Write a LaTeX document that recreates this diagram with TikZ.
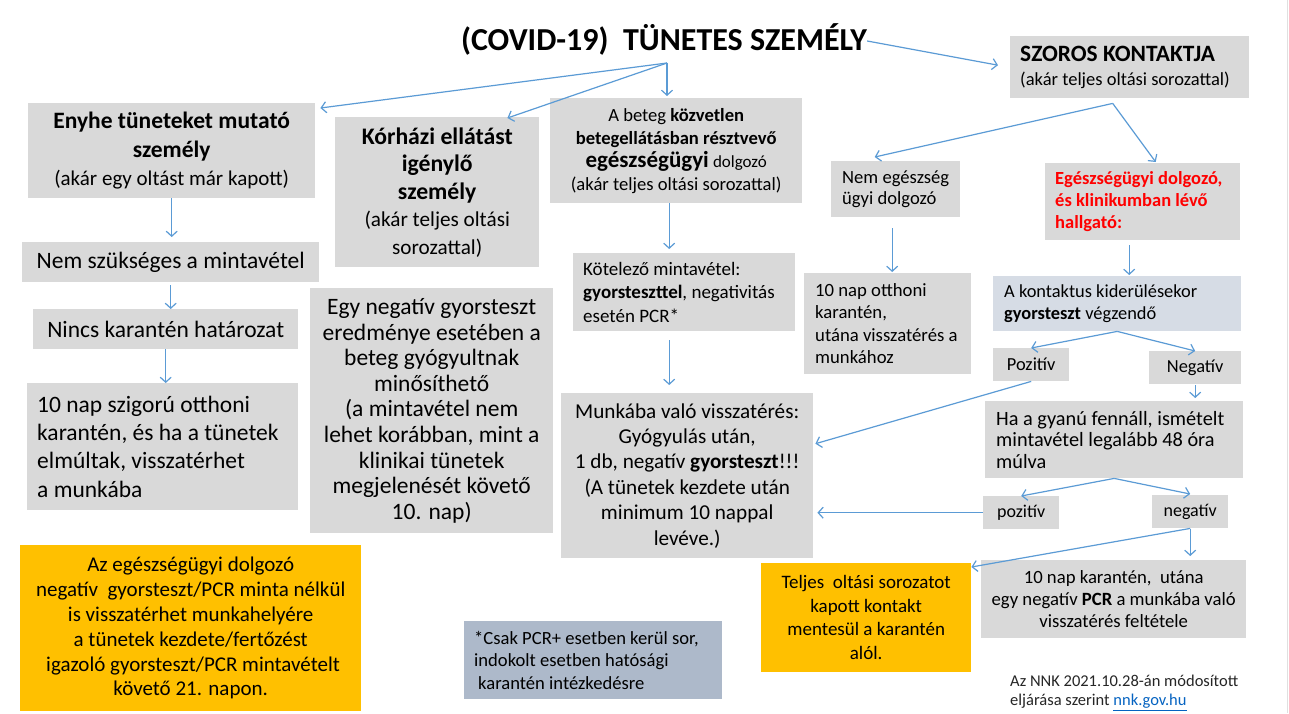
\documentclass[tikz,border=0pt]{standalone}
\usepackage{fontspec}
\setmainfont{Carlito}
\usetikzlibrary{arrows.meta,calc}
\definecolor{boxgray}{HTML}{D9D9D9}
\definecolor{lblue}{HTML}{D6DCE5}
\definecolor{bgray}{HTML}{ADB9CA}
\definecolor{orng}{HTML}{FFC000}
\definecolor{arrblue}{HTML}{5B9BD5}
\definecolor{linkblue}{HTML}{0563C1}
\definecolor{redtxt}{HTML}{FF0000}
\newcommand\fs[2]{\fontsize{#1}{#2}\selectfont}
% centred box: name, x1, y1, x2, y2, style, text
\newcommand\cbx[7]{%
  \pgfmathsetmacro\bw{#4-#2}\pgfmathsetmacro\bh{#5-#3}%
  \node[boxstyle, anchor=north west, minimum width=\bw pt, minimum height=\bh pt, align=center, #6] (#1) at (#2,#3) {#7};}
% left-aligned box: name, x1, y1, x2, y2, pad, style, text
\newcommand\lbx[8]{%
  \pgfmathsetmacro\bw{#4-#2}\pgfmathsetmacro\bh{#5-#3}%
  \node[boxstyle, anchor=north west, minimum width=\bw pt, minimum height=\bh pt, #7] (#1) at (#2,#3) {};
  \node[anchor=west, align=left, inner sep=0pt, #7, fill=none] (#1-t) at ($(#1.west)+(#6,0)$) {#8};}
\begin{document}
\begin{tikzpicture}[x=1pt,y=-1pt,
  boxstyle/.style={fill=boxgray, draw=none, inner sep=0pt, text=black},
  arr/.style={draw=arrblue, line width=1.2pt, -{Straight Barb[length=5pt,width=11pt]}},
  big/.style={font=\fs{23.5}{28.5}}]
\fill[white] (0,0) rectangle (1289,713);
\useasboundingbox (0,0) rectangle (1289,713);
\draw[line width=0.8pt, black!12] (1287,0) -- (1287,713);

% title
\node[anchor=base, inner sep=0pt, font=\fs{32}{36}\bfseries] (title) at (664,50) {(COVID-19)\ \ TÜNETES SZEMÉLY};

% left column
\cbx{enyhe}{28}{103}{315}{198}{font=\fs{23.5}{28.5}}{\textbf{Enyhe tüneteket mutató}\\\textbf{személy}\\{\fs{21}{28.5}(akár egy oltást már kapott)}}
\cbx{nemszuk}{22}{242}{319}{282}{big}{Nem szükséges a mintavétel}
\cbx{nincs}{33}{309}{298}{349}{big}{Nincs karantén határozat}
\lbx{szig}{27}{383}{298}{510}{10}{font=\fs{23.5}{28.3}}{10 nap szigorú otthoni\\karantén, és ha a tünetek\\elmúltak, visszatérhet\\a munkába}
\cbx{orange}{20}{545}{361}{711}{fill=orng, font=\fs{21}{24.8}}{Az egészségügyi dolgozó\\negatív\ \ gyorsteszt/PCR minta nélkül\\is visszatérhet munkahelyére\\a tünetek kezdete/fertőzést\\\ igazoló gyorsteszt/PCR mintavételt\\követő 21. napon.}

% second column
\cbx{korhazi}{335}{117}{539}{267}{font=\fs{23.7}{27.5}}{\textbf{Kórházi ellátást}\\\textbf{igénylő}\\\textbf{személy}\\{\fs{21.2}{27.5}(akár teljes oltási}\\{\fs{21.2}{27.5}sorozattal)}}
\cbx{egyneg}{310}{288}{553}{533}{font=\fs{23.5}{25.6}}{Egy negatív gyorsteszt\\eredménye esetében a\\beteg gyógyultnak\\minősíthető\\(a mintavétel nem\\lehet korábban, mint a\\klinikai tünetek\\megjelenését követő\\10. nap)}
\lbx{csak}{464}{621}{722}{699}{10}{fill=bgray, font=\fs{18.6}{22.5}}{*Csak PCR+ esetben kerül sor,\\indokolt esetben hatósági\\\hspace{4pt}karantén intézkedésre}

% third column
\cbx{abeteg}{550}{98}{802}{203}{font=\fs{18.6}{23}}{A beteg \textbf{közvetlen}\\\textbf{betegellátásban résztvevő}\\{\fs{23}{23}\bfseries egészségügyi} {\fs{17}{23}dolgozó}\\(akár teljes oltási sorozattal)}
\lbx{kotelezo}{573}{253}{795}{331}{10}{font=\fs{19}{23.5}}{Kötelező mintavétel:\\\textbf{gyorsteszttel}, negativitás\\esetén PCR*}
\cbx{munkaba}{561}{393}{813}{558}{font=\fs{21.2}{25.4}}{Munkába való visszatérés:\\Gyógyulás után,\\1 db, negatív \textbf{gyorsteszt}!!!\\(A tünetek kezdete után\\minimum 10 nappal\\levéve.)}
\cbx{teljes}{761}{563}{971}{672}{fill=orng, font=\fs{19}{23.5}}{Teljes\ \ oltási sorozatot\\kapott kontakt\\mentesül a karantén\\alól.}

% contact column
\lbx{szoros}{1010}{36}{1249}{98}{10}{font=\fs{18.5}{24}}{{\fs{23.4}{24}\bfseries SZOROS KONTAKTJA}\\(akár teljes oltási sorozattal)}
\lbx{nemeg}{831}{161}{960}{217}{11}{font=\fs{18.6}{21}}{Nem egészség\\ügyi dolgozó}
\lbx{egeszs}{1045}{163}{1240}{240}{10}{font=\fs{18.5}{22}\bfseries, text=redtxt}{Egészségügyi dolgozó,\\és klinikumban lévő\\hallgató:}
\lbx{otthoni}{804}{273}{971}{374}{11}{font=\fs{18.7}{22.5}}{10 nap otthoni\\karantén,\\utána visszatérés a\\munkához}
\lbx{kontaktus}{993}{276}{1241}{331}{11}{fill=lblue, font=\fs{18.4}{22}}{A kontaktus kiderülésekor\\\textbf{gyorsteszt} végzendő}
\cbx{pozitiv}{993}{348}{1069}{381}{font=\fs{18.4}{22}}{Pozitív}
\cbx{negativ}{1149}{351}{1241}{384}{font=\fs{18.4}{22}}{Negatív}
\lbx{gyanu}{985}{401}{1243}{478}{11}{font=\fs{20.3}{21.5}}{Ha a gyanú fennáll, ismételt\\mintavétel legalább 48 óra\\múlva}
\cbx{pozitiv2}{983}{496}{1059}{529}{font=\fs{18}{22}}{pozitív}
\cbx{negativ2}{1152}{495}{1228}{528}{font=\fs{18}{22}}{negatív}
\cbx{karanten}{981}{560}{1246}{638}{font=\fs{18.7}{22}}{10 nap karantén,\ \ utána\\egy negatív \textbf{PCR} a munkába való\\visszatérés feltétele}

% footer
\node[anchor=north west, align=left, inner sep=0pt, font=\fs{16.5}{19}, text=black!85] (footer) at (1010,675) {Az NNK 2021.10.28-án módosított\\eljárása szerint \textcolor{linkblue}{\underline{nnk.gov.hu}}};

% arrows
\coordinate (hub) at (667,63);
\draw[arr] (hub) -- ($(enyhe.north east)+(5,5)$);
\draw[arr] (hub) -- ($(korhazi.north east)+(-32,1)$);
\draw[arr, shorten >=2pt] (hub) -- (hub |- abeteg.north);
\draw[arr] ($(title.east)+(0,2)$) -- ($(szoros.west)+(-12,-2)$);
\coordinate (szhub) at ($(szoros.south)+(-17,5)$);
\draw[arr] (szhub) -- ($(nemeg.north)+(-21,-4)$);
\draw[arr] (szhub) -- ($(egeszs.north)+(13,-1)$);

\draw[arr, shorten >=5pt] (enyhe.south) -- (enyhe.south |- nemszuk.north);
\draw[arr, shorten <=3pt] (nemszuk.south) -- (nemszuk.south |- nincs.north);
\draw[arr] (nincs.south) -- (nincs.south |- szig.north);

\draw[arr] ($(abeteg.south)+(-7,0)$) -- ($(abeteg.south |- kotelezo.north)+(-7,-4)$);
\draw[arr] ($(kotelezo.south)+(-15,9)$) -- ($(kotelezo.south |- munkaba.north)+(-15,-8)$);

\draw[arr] ($(nemeg.south)+(-3.5,11)$) -- ($(nemeg.south |- otthoni.north)+(-3.5,-1)$);
\draw[arr] ($(egeszs.south)+(-13.5,5)$) -- ($(egeszs.south |- kontaktus.north)+(-13.5,-1)$);

\draw[arr] (kontaktus.south) -- (pozitiv.north);
\draw[arr] (kontaktus.south) -- (negativ.north);
\draw[arr] (pozitiv.south) -- ($(munkaba.east)+(2,-32)$);
\draw[arr] ($(negativ.south)+(0,1)$) -- ($(negativ.south |- gyanu.north)+(0,-3)$);

\draw[arr] (gyanu.south) -- (pozitiv2.north);
\draw[arr] (gyanu.south) -- ($(negativ2.north)+(0,-1)$);
\draw[arr] (pozitiv2.west) -- ($(munkaba.east |- pozitiv2.west)+(4,0)$);
\draw[arr] (negativ2.south) -- ($(teljes.north east)+(0,4)$);
\draw[arr] ($(negativ2.south)+(0,1)$) -- ($(negativ2.south |- karanten.north)+(0,-4)$);
\end{tikzpicture}
\end{document}
